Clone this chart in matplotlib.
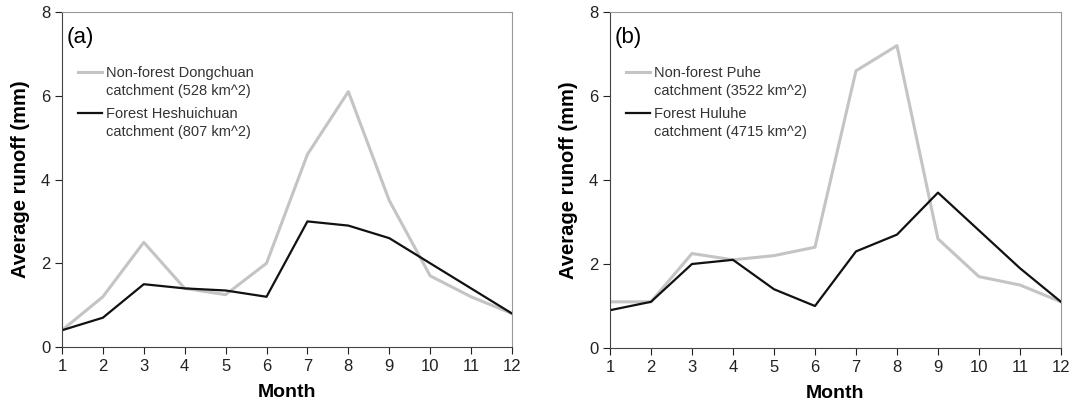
import numpy as np
import matplotlib.pyplot as plt

months = list(range(1, 13))

# (a) Dongchuan vs Heshuichuan
nonforest_a = [0.4, 1.2, 2.5, 1.4, 1.25, 2.0, 4.6, 6.1, 3.5, 1.7, 1.2, 0.8]
forest_a = [0.4, 0.7, 1.5, 1.4, 1.35, 1.2, 3.0, 2.9, 2.6, 2.0, 1.4, 0.8]
labels_a = ['Non-forest Dongchuan\ncatchment (528 km^2)',
            'Forest Heshuichuan\ncatchment (807 km^2)']

# (b) Puhe vs Huluhe
nonforest_b = [1.1, 1.1, 2.25, 2.1, 2.2, 2.4, 6.6, 7.2, 2.6, 1.7, 1.5, 1.1]
forest_b = [0.9, 1.1, 2.0, 2.1, 1.4, 1.0, 2.3, 2.7, 3.7, 2.8, 1.9, 1.1]
labels_b = ['Non-forest Puhe\ncatchment (3522 km^2)',
            'Forest Huluhe\ncatchment (4715 km^2)']

plt.rcParams['font.family'] = ['Liberation Sans', 'DejaVu Sans']

fig = plt.figure(figsize=(10.72, 4.05), dpi=100)
ax_a = fig.add_axes([0.0578, 0.1432, 0.4198, 0.827])
ax_b = fig.add_axes([0.569, 0.1407, 0.4207, 0.8296])


def draw_panel(ax, gray_vals, black_vals, labels, tag):
    ax.plot(months, gray_vals, color='#c4c4c4', lw=2.2, label=labels[0])
    ax.plot(months, black_vals, color='#111111', lw=1.6, label=labels[1])
    ax.set_xlim(1, 12)
    ax.set_ylim(0, 8)
    ax.set_xticks(months)
    ax.set_yticks([0, 2, 4, 6, 8])
    ax.tick_params(direction='out', length=5, labelsize=12, colors='#222222')
    for side in ['top', 'right']:
        ax.spines[side].set_color('#999999')
    for side in ['left', 'bottom']:
        ax.spines[side].set_color('#444444')
    ax.set_xlabel('Month', fontsize=14, fontweight='bold', labelpad=7)
    ax.set_ylabel('Average runoff (mm)', fontsize=14.5, fontweight='bold', labelpad=8)
    ax.text(0.01, 0.925, tag, transform=ax.transAxes, fontsize=16, va='center')
    leg = ax.legend(loc='upper left', bbox_to_anchor=(0.013, 0.87), frameon=False,
                    fontsize=10.5, handlelength=1.65, handletextpad=0.25,
                    labelspacing=0.65, borderaxespad=0.3)
    for t in leg.get_texts():
        t.set_color('#333333')
        t.set_linespacing(1.35)
    # put each key line beside the first row of its label
    for h in leg.legend_handles:
        h.set_ydata(np.asarray(h.get_ydata()) + 7.3)


draw_panel(ax_a, nonforest_a, forest_a, labels_a, '(a)')
draw_panel(ax_b, nonforest_b, forest_b, labels_b, '(b)')

fig.savefig('out.png', dpi=100)
